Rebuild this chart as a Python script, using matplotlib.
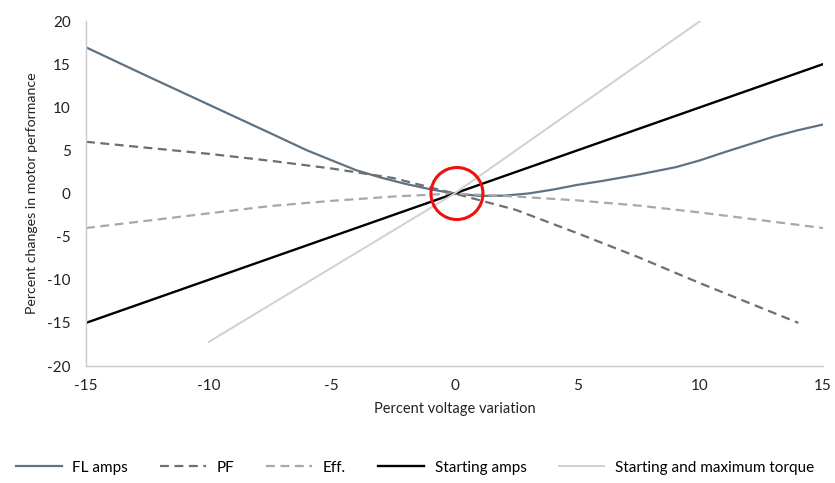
import numpy as np
import matplotlib
matplotlib.use("Agg")
import matplotlib.pyplot as plt
from matplotlib.patches import Ellipse

plt.rcParams['font.family'] = ['Lato', 'DejaVu Sans']
plt.rcParams['axes.unicode_minus'] = False

# values
x_fl = [-15, -12.5, -10, -7.5, -6, -5, -4, -3, -2, -1, 0, 1, 2, 3, 4, 5,
        6, 7.5, 9, 10, 11, 12, 13, 14, 15]
fl_amps = [16.95, 13.6, 10.3, 7.0, 5.0, 3.85, 2.7, 1.85, 1.12, 0.5, 0, -0.27, -0.25,
           0.0, 0.45, 1.0, 1.45, 2.2, 3.05, 3.85, 4.8, 5.7, 6.6, 7.35, 8]

x_pf = [-15, -10, -7.5, -5, -2.5, 0, 2.5, 5, 7.5, 10, 14]
pf = [6, 4.6, 3.8, 2.9, 1.8, 0, -1.9, -4.6, -7.4, -10.4, -15]

x_eff = [-15, -10, -7.5, -5, -2.5, 0, 2.5, 5, 7.5, 10, 15]
eff = [-4, -2.3, -1.45, -0.85, -0.35, 0, -0.35, -0.8, -1.4, -2.2, -4]

x_start = [-15, 0, 15]
start_amps = [-15, 0, 15]

x_torque = [-10, -5, 0, 5, 10]
torque = [-17.2, -8.6, 0, 10, 20]

fig = plt.figure(figsize=(8.35, 4.83), dpi=100)
ax = fig.add_axes([0.103, 0.2422, 0.8826, 0.7143])

ax.plot(x_fl, fl_amps, color='#5f7285', lw=1.6, label='FL amps')
ax.plot(x_pf, pf, color='#6e6e6e', lw=1.6, dashes=(4, 2.5), label='PF')
ax.plot(x_eff, eff, color='#a8a8a8', lw=1.6, dashes=(4, 2.5), label='Eff.')
ax.plot(x_start, start_amps, color='#000000', lw=1.7, label='Starting amps')
ax.plot(x_torque, torque, color='#d0d0d0', lw=1.4, label='Starting and maximum torque')

ax.set_xlim(-15, 15)
ax.set_ylim(-20, 20)
ax.set_xticks(np.arange(-15, 16, 5))
ax.set_yticks(np.arange(-20, 21, 5))

# red circle around the origin (round in pixels)
w = 52 / (ax.get_position().width * 835) * 30
h = 52 / (ax.get_position().height * 483) * 40
ax.add_patch(Ellipse((0.1, 0), w, h, fill=False, edgecolor='#ee1111', lw=2.2, zorder=5))

for s in ['top', 'right']:
    ax.spines[s].set_visible(False)
for s in ['left', 'bottom']:
    ax.spines[s].set_color('#c8c8c8')
    ax.spines[s].set_linewidth(1.0)
ax.tick_params(length=0, labelsize=11, colors='#222222', pad=9)
ax.tick_params(axis='y', pad=11)

ax.set_xlabel('Percent voltage variation', fontsize=10.5, color='#222222', labelpad=7)
ax.set_ylabel('Percent changes in motor performance', fontsize=10.2, color='#222222', labelpad=7)

fig.legend(loc='center', bbox_to_anchor=(0.497, 0.032), ncol=5, frameon=False,
           fontsize=11, handlelength=3.0, handletextpad=0.7, columnspacing=2.1)

fig.savefig('out.png', dpi=100)
